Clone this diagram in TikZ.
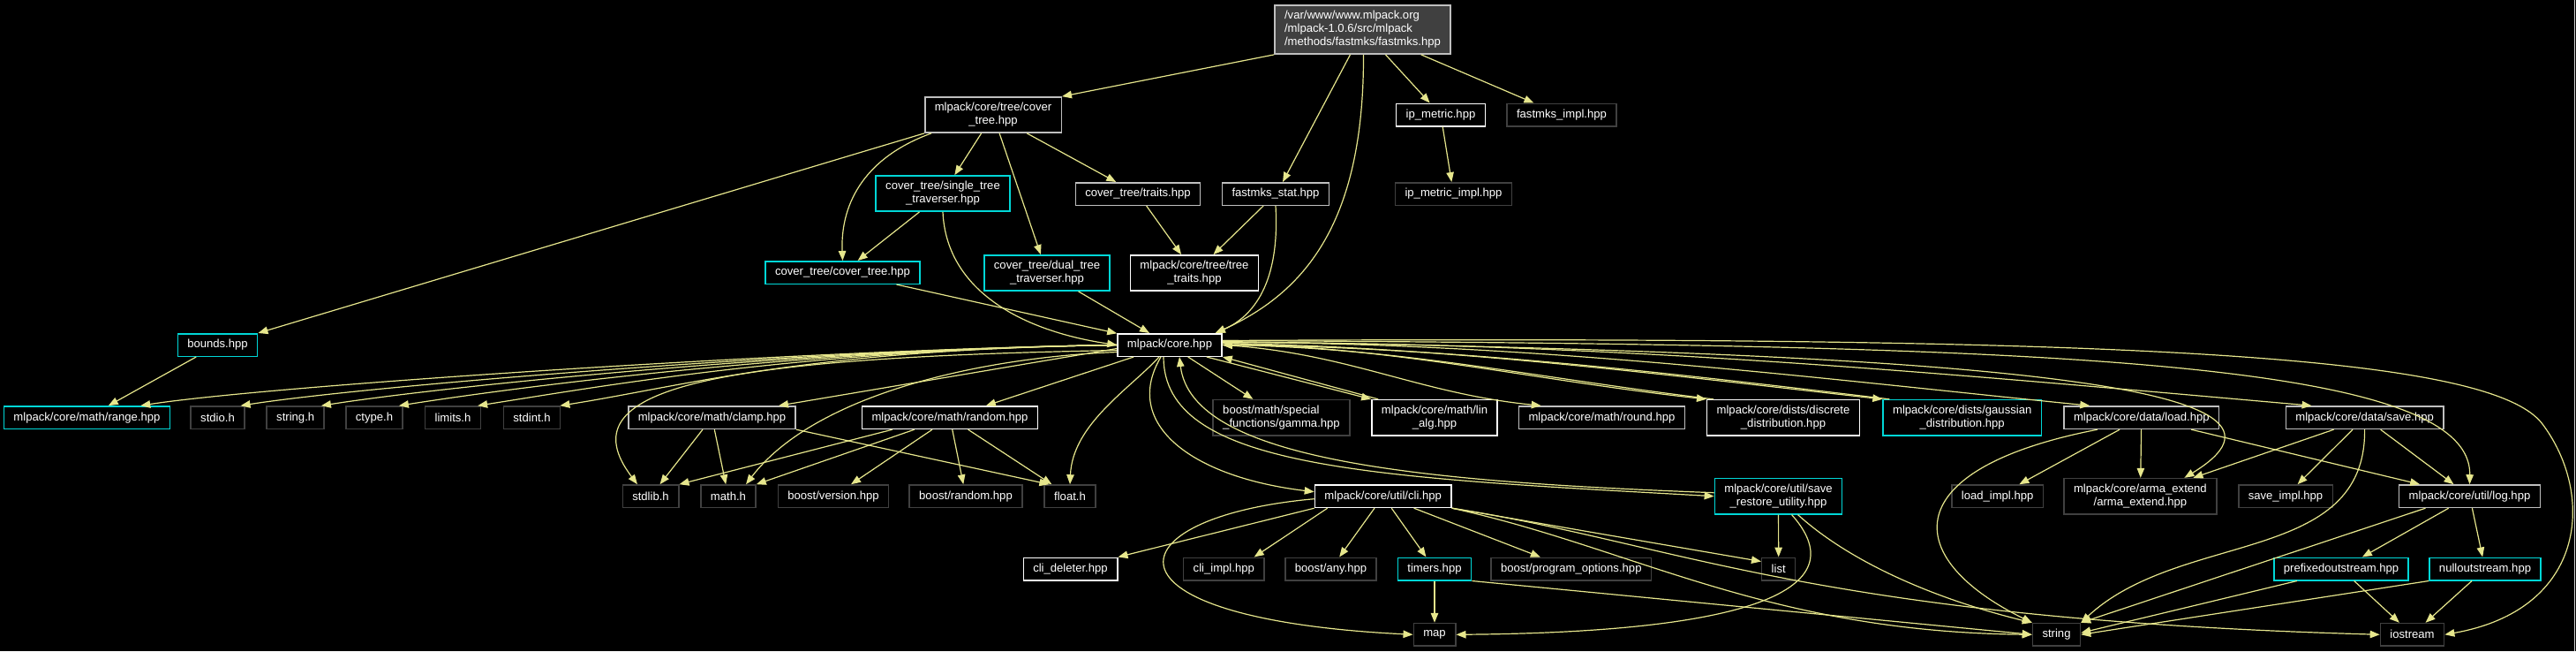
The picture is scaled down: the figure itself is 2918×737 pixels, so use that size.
\documentclass[tikz,border=0pt]{standalone}
\usepackage{fontspec}
\setmainfont{Liberation Sans}
\usepackage{tikz}
\usetikzlibrary{calc, arrows.meta}
\definecolor{edgecol}{RGB}{230,230,140}
\definecolor{lgray}{RGB}{191,191,191}
\definecolor{dgray}{RGB}{64,64,64}
\definecolor{tcyan}{RGB}{0,215,215}

\begin{document}
\begin{tikzpicture}[x=1pt, y=-1pt,
    hdr/.style={
        rectangle, draw, line width=1.5pt, text=white,
        font=\fontsize{13.1}{15}\selectfont, align=center,
        inner xsep=11pt, inner ysep=6.5pt, minimum height=25.5pt},
    docfile/.style={hdr, draw=white},
    grayfile/.style={hdr, draw=lgray},
    cyanfile/.style={hdr, draw=tcyan},
    extfile/.style={hdr, draw=dgray},
    rootfile/.style={hdr, draw=lgray, fill=dgray, align=left},
    arr/.style={-{Triangle[length=11pt, width=8.5pt]}, line width=1.2pt, color=edgecol}]
  % Fondo
  \useasboundingbox (0,0) rectangle (2918,737);
  \fill[black] (0,0) rectangle (2918,737);
  \draw[lgray!70, line width=1.5pt] (2916.5,0) -- (2916.5,737);
  % Nodos: nivel superior
  \node[rootfile] (root) at (1543.5,33.5)
    {/var/www/www.mlpack.org\\ /mlpack-1.0.6/src/mlpack\\ /methods/fastmks/fastmks.hpp};
  \node[grayfile]  (ctree)   at (1125,130)    {mlpack/core/tree/cover\\ \_tree.hpp};
  \node[docfile]   (ipm)     at (1632,130)    {ip\_metric.hpp};
  \node[extfile]   (fimpl)   at (1769,130)    {fastmks\_impl.hpp};
  \node[cyanfile]  (stt)     at (1068,219)    {cover\_tree/single\_tree\\ \_traverser.hpp};
  \node[grayfile]  (ctraits) at (1289,219.5)  {cover\_tree/traits.hpp};
  \node[grayfile]  (fstat)   at (1445,219.5)  {fastmks\_stat.hpp};
  \node[extfile]   (ipmimpl) at (1646.5,219.5) {ip\_metric\_impl.hpp};
  \node[cyanfile]  (ctcover) at (954.5,308.5) {cover\_tree/cover\_tree.hpp};
  \node[cyanfile]  (dtt)     at (1186,309)    {cover\_tree/dual\_tree\\ \_traverser.hpp};
  \node[docfile]   (ttraits) at (1353,309)    {mlpack/core/tree/tree\\ \_traits.hpp};
  \node[cyanfile]  (bounds)  at (246.5,390.5) {bounds.hpp};
  \node[docfile]   (core)    at (1325,390.5)  {mlpack/core.hpp};
  % Nodos: fila de core.hpp
  \node[cyanfile]  (range)   at (98.5,472.7)  {mlpack/core/math/range.hpp};
  \node[extfile]   (stdio)   at (246.5,472.7) {stdio.h};
  \node[extfile]   (stringh) at (334.7,472.7) {string.h};
  \node[extfile]   (ctype)   at (424,472.7)   {ctype.h};
  \node[extfile]   (limits)  at (513,472.7)   {limits.h};
  \node[extfile]   (stdint)  at (602.5,472.7) {stdint.h};
  \node[grayfile]  (clamp)   at (806.5,472.7) {mlpack/core/math/clamp.hpp};
  \node[docfile]   (random)  at (1076,472.7)  {mlpack/core/math/random.hpp};
  \node[extfile, align=left] (gamma) at (1451.5,472.7) {boost/math/special\\ \_functions/gamma.hpp};
  \node[docfile]   (linalg)  at (1625,472.7)  {mlpack/core/math/lin\\ \_alg.hpp};
  \node[grayfile]  (round)   at (1814.5,472.7) {mlpack/core/math/round.hpp};
  \node[docfile]   (discrete) at (2020,472.7) {mlpack/core/dists/discrete\\ \_distribution.hpp};
  \node[cyanfile]  (gauss)   at (2222.7,472.7) {mlpack/core/dists/gaussian\\ \_distribution.hpp};
  \node[grayfile]  (load)    at (2425.8,472.7) {mlpack/core/data/load.hpp};
  \node[grayfile]  (save)    at (2678.6,472.7) {mlpack/core/data/save.hpp};
  % Nodos: filas inferiores
  \node[extfile]   (stdlib)  at (737,561.7)   {stdlib.h};
  \node[extfile]   (mathh)   at (825,561.7)   {math.h};
  \node[extfile]   (bversion) at (944,561.7)  {boost/version.hpp};
  \node[extfile]   (brandom) at (1094,561.7)  {boost/random.hpp};
  \node[extfile]   (floath)  at (1212,561.7)  {float.h};
  \node[docfile]   (cli)     at (1566.7,561.7) {mlpack/core/util/cli.hpp};
  \node[cyanfile]  (sru)     at (2014.5,561.7) {mlpack/core/util/save\\ \_restore\_utility.hpp};
  \node[extfile]   (loadimpl) at (2262.6,561.7) {load\_impl.hpp};
  \node[extfile]   (arma)    at (2424.4,561.7) {mlpack/core/arma\_extend\\ /arma\_extend.hpp};
  \node[extfile]   (saveimpl) at (2589,561.7) {save\_impl.hpp};
  \node[grayfile]  (log)     at (2797.5,561.7) {mlpack/core/util/log.hpp};
  \node[docfile]   (clidel)  at (1212.5,644)  {cli\_deleter.hpp};
  \node[extfile]   (cliimpl) at (1386.3,644)  {cli\_impl.hpp};
  \node[extfile]   (bany)    at (1507.5,644)  {boost/any.hpp};
  \node[cyanfile]  (timers)  at (1625,644)    {timers.hpp};
  \node[extfile]   (bpo)     at (1779.8,644)  {boost/program\_options.hpp};
  \node[extfile]   (list)    at (2014.7,644)  {list};
  \node[cyanfile]  (prefix)  at (2652,644)    {prefixedoutstream.hpp};
  \node[cyanfile]  (nullout) at (2815,644)    {nulloutstream.hpp};
  \node[extfile]   (map)     at (1625,718.3)  {map};
  \node[extfile]   (string)  at (2329.5,718.3) {string};
  \node[extfile]   (iostream) at (2732.5,718.3) {iostream};
  % Flechas desde fastmks.hpp
  \draw[arr] (root.south west) -- (ctree.north east);
  \draw[arr] ([xshift=-14pt]root.south) -- ([xshift=8pt]fstat.north);
  \draw[arr] ([xshift=1pt]root.south) .. controls (1545,250) and (1480,330) .. ([xshift=-8pt]core.north east);
  \draw[arr] (root) -- (ipm);
  \draw[arr] (root) -- (fimpl);
  % Flechas del arbol
  \draw[arr] (ctree.south west) -- (bounds.north east);
  \draw[arr] ([xshift=8pt]ctree.south west) .. controls (975,180) and (952,235) .. (ctcover.north);
  \draw[arr] (ctree) -- (stt);
  \draw[arr] (ctree) -- (dtt);
  \draw[arr] (ctree) -- (ctraits);
  \draw[arr] (stt) -- (ctcover);
  \draw[arr] (stt.south) .. controls (1072,330) and (1160,375) .. (core.west);
  \draw[arr] (ctcover) -- (core);
  \draw[arr] (dtt) -- (core);
  \draw[arr] (ctraits) -- (ttraits);
  \draw[arr] (fstat) -- (ttraits);
  \draw[arr] (fstat.south) .. controls (1450,320) and (1420,358) .. ([xshift=-8pt]core.north east);
  \draw[arr] (ipm) -- (ipmimpl);
  \draw[arr] (bounds) -- (range);
  % Flechas desde core.hpp
  \foreach \t/\s in {range/-34, stdio/-5, stringh/-4, ctype/-5, limits/-4, stdint/-1}
    \draw[arr] (core.west) .. controls +(-350,5) and +(140,-22) .. ([xshift=\s pt]\t.north east);
  \draw[arr] ([yshift=-6pt]core.west) .. controls (800,405) and (640,440) .. ([xshift=-15pt]stdlib.north);
  \draw[arr] ([yshift=-8pt]core.west) .. controls (1100,405) and (920,450) .. ([xshift=20pt]mathh.north);
  \draw[arr] ([yshift=-4pt]core.west) -- ([xshift=-20pt]clamp.north east);
  \draw[arr] (core) -- (random);
  \draw[arr] ([xshift=-12pt]core.south) .. controls (1280,440) and (1215,480) .. (floath.north);
  \draw[arr] (core) -- (gamma);
  \draw[arr] ([xshift=-18pt]core.south east) -- (linalg.north west);
  \draw[arr] ([xshift=8pt]linalg.north west) -- (core.south east);
  \draw[arr] (core.east) .. controls +(140,8) and +(-140,-14) .. ([xshift=26pt]round.north west);
  \draw[arr] ([yshift=2pt]core.east) .. controls +(200,5) and +(-200,-22) .. (discrete.north west);
  \draw[arr] ([xshift=8pt]discrete.north west) .. controls +(-200,-24) and +(200,3) .. (core.east);
  \draw[arr] ([yshift=2pt]core.east) .. controls +(250,4) and +(-250,-28) .. (gauss.north west);
  \draw[arr] ([xshift=8pt]gauss.north west) .. controls +(-250,-30) and +(250,2) .. (core.east);
  \draw[arr] ([yshift=3pt]core.east) .. controls +(350,0) and +(-300,-30) .. ([xshift=30pt]load.north west);
  \draw[arr] ([yshift=3pt]core.east) .. controls +(450,0) and +(-400,-35) .. ([xshift=30pt]save.north west);
  \draw[arr] ([yshift=4pt]core.east) .. controls (2300,400) and (2640,440) .. ([xshift=50pt]arma.north);
  \draw[arr] ([yshift=5pt]core.east) .. controls (2300,390) and (2800,405) .. (log.north);
  \draw[arr] ([yshift=5pt]core.east) .. controls (2400,380) and (2820,400) .. (2880,480)
    .. controls (2940,560) and (2930,690) .. (iostream.east);
  \draw[arr] ([xshift=-10pt]core.south) .. controls (1270,480) and (1350,540) .. ([yshift=5pt]cli.west);
  \draw[arr] ([xshift=-7pt]core.south) .. controls (1318,530) and (1550,540) .. (sru.west);
  \draw[arr] ([yshift=4pt]sru.west) .. controls (1600,545) and (1350,520) .. ([xshift=11pt]core.south);
  % Flechas de math
  \draw[arr] (clamp) -- (stdlib);
  \draw[arr] (clamp) -- (mathh);
  \draw[arr] (clamp.south east) -- ([xshift=6pt]floath.north west);
  \draw[arr] ([xshift=35pt]random.south west) -- (stdlib.north east);
  \draw[arr] ([xshift=60pt]random.south west) -- (mathh.north east);
  \draw[arr] (random) -- (bversion);
  \draw[arr] (random) -- (brandom);
  \draw[arr] (random) -- (floath);
  % Flechas de data y log
  \draw[arr] (load) -- (loadimpl);
  \draw[arr] (load) -- (arma);
  \draw[arr] (load) -- (log);
  \draw[arr] ([xshift=-50pt]load.south) .. controls (2150,530) and (2150,630) .. (string.north west);
  \draw[arr] ([xshift=-35pt]save.south) -- ([xshift=60pt]arma.north);
  \draw[arr] (save) -- (saveimpl);
  \draw[arr] (save) -- (log);
  \draw[arr] (save.south) .. controls (2680,640) and (2470,600) .. (string.north east);
  \draw[arr] (log) -- (prefix);
  \draw[arr] (log) -- (nullout);
  \draw[arr] ([xshift=-50pt]log.south) -- (string.north east);
  \draw[arr] ([xshift=-50pt]prefix.south) -- ([yshift=2pt]string.east);
  \draw[arr] (prefix) -- (iostream);
  \draw[arr] (nullout.south west) -- (string.east);
  \draw[arr] (nullout) -- (iostream);
  % Flechas de util
  \draw[arr] (cli.south west) -- (clidel.north east);
  \draw[arr] ([xshift=15pt]cli.south west) -- ([xshift=-12pt]cliimpl.north east);
  \draw[arr] ([yshift=-3pt]cli.west) .. controls (1260,585) and (1230,700) .. (map.west);
  \draw[arr] (cli) -- (bany);
  \draw[arr] (cli) -- (timers);
  \draw[arr] (cli) -- (bpo);
  \draw[arr] (cli.south east) -- ([yshift=-5pt]list.north west);
  \draw[arr] (cli.south east) .. controls (1850,620) and (2000,715) .. (string.west);
  \draw[arr] (cli.south east) .. controls (1900,615) and (2050,700) .. (iostream.west);
  \draw[arr] (timers) -- (map);
  \draw[arr] (timers.south east) -- (string.west);
  \draw[arr] (sru) -- (list);
  \draw[arr] ([xshift=15pt]sru.south) .. controls (2090,650) and (2040,715) .. (map.east);
  \draw[arr] ([xshift=22pt]sru.south) .. controls (2100,640) and (2200,680) .. (string.north west);
\end{tikzpicture}
\end{document}
